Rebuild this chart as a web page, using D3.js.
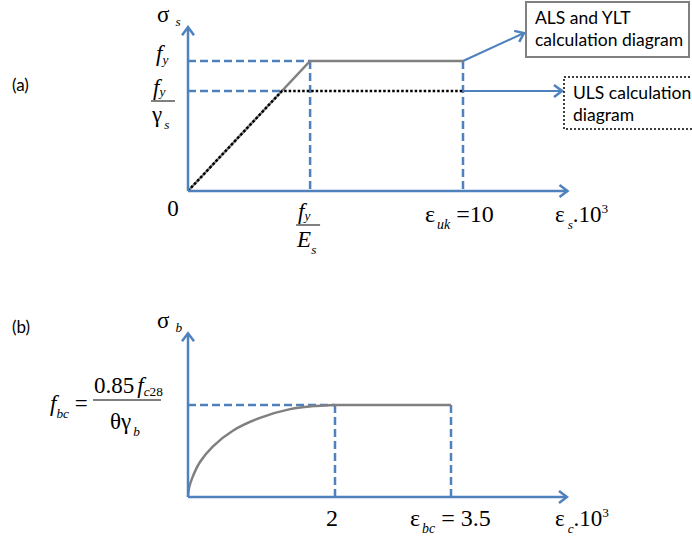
<!DOCTYPE html>
<html>
<head>
<meta charset="utf-8">
<script src="https://cdn.jsdelivr.net/npm/d3@7"></script>
<style>
  body { margin: 0; background: #fff; }
</style>
</head>
<body>
<script>
// steel diagram (a): strain x10^3, stress relative to fy
let steelStrain = [0, 4.44, 10];
let steelStress = [0, 1, 1];
let steelDesign = 0.77;          // fy / gamma_s relative to fy
let steelAxisMax = [13.8, 1.26];

// concrete diagram (b): strain x10^3, stress relative to fbc
let concreteStrain = [0, 0.015, 0.054, 0.163, 0.34, 0.61, 0.98, 1.39, 1.75, 2, 3.5];
let concreteStress = [0, 0.1, 0.2, 0.38, 0.55, 0.72, 0.86, 0.955, 0.99, 1, 1];
let concreteTicks = [2, 3.5];
let concreteAxisMax = [5, 1.78];

let blue = "#4f81bd";
let grey = "#808080";

function main() {
    let svg = d3.select("body").append("svg")
        .attr("width", 692)
        .attr("height", 541);

    let defs = svg.append("defs");
    defs.append("marker")
        .attr("id", "arr")
        .attr("viewBox", "-10 -8 12 16")
        .attr("markerWidth", 12)
        .attr("markerHeight", 16)
        .attr("markerUnits", "userSpaceOnUse")
        .attr("orient", "auto")
        .append("path")
        .attr("d", "M-8,-6 L0,0 L-8,6")
        .attr("fill", "none")
        .attr("stroke", blue)
        .attr("stroke-width", 2.5);

    function line(x1, y1, x2, y2, color, w, dash, arrow) {
        let l = svg.append("line")
            .attr("x1", x1).attr("y1", y1)
            .attr("x2", x2).attr("y2", y2)
            .attr("stroke", color)
            .attr("stroke-width", w);
        if (dash) l.attr("stroke-dasharray", dash);
        if (arrow) l.attr("marker-end", "url(#arr)");
        return l;
    }

    // math-style text built from parts, sub may be true or a pixel shift
    function math(x, y, parts, size, anchor) {
        let t = svg.append("text")
            .attr("x", x).attr("y", y)
            .attr("font-family", "Liberation Serif, serif")
            .attr("font-size", size)
            .attr("text-anchor", anchor || "start")
            .attr("fill", "#000");
        let shift = 0;
        parts.forEach(function(p) {
            let target = 0;
            if (p.sub) target = (p.sub === true) ? size * 0.3 : p.sub;
            if (p.sup) target = -size * 0.4;
            let ts = t.append("tspan").attr("dy", target - shift).text(p.t);
            if (p.dx) ts.attr("dx", p.dx);
            shift = target;
            if (p.i) ts.attr("font-style", "italic");
            if (p.sub || p.sup) ts.attr("font-size", size * 0.58);
        });
        return t;
    }

    function label(x, y, txt, size) {
        return svg.append("text")
            .attr("x", x).attr("y", y)
            .attr("font-family", "Lato, sans-serif")
            .attr("font-size", size)
            .attr("fill", "#000")
            .text(txt);
    }

    let dash = "8,4";

    // ---------- (a) steel ----------
    let xa = d3.scaleLinear().domain([0, 10]).range([188, 463]);
    let ya = d3.scaleLinear().domain([0, 1]).range([191, 61]);

    // dashed guides
    line(xa(0), ya(1), xa(steelStrain[1]), ya(1), blue, 2.5, dash);
    line(xa(0), ya(steelDesign), xa(steelStrain[1] * steelDesign), ya(steelDesign), blue, 2.5, dash);
    line(xa(steelStrain[1]), ya(1), xa(steelStrain[1]), ya(0), blue, 2.5, dash);
    line(xa(steelStrain[2]), ya(1), xa(steelStrain[2]), ya(0), blue, 2.5, dash);

    // grey characteristic diagram
    svg.append("path")
        .datum(steelStrain.map((d, i) => [d, steelStress[i]]))
        .attr("d", d3.line().x(d => xa(d[0])).y(d => ya(d[1])))
        .attr("fill", "none")
        .attr("stroke", grey)
        .attr("stroke-width", 2.5);

    // black dotted design diagram
    svg.append("path")
        .datum([[0, 0], [steelStrain[1] * steelDesign, steelDesign], [steelStrain[2], steelDesign]])
        .attr("d", d3.line().x(d => xa(d[0])).y(d => ya(d[1])))
        .attr("fill", "none")
        .attr("stroke", "#000")
        .attr("stroke-width", 2.5)
        .attr("stroke-dasharray", "2.5,2");

    // axes
    line(xa(0), ya(0), xa(steelAxisMax[0]), ya(0), blue, 2.5, null, true);
    line(xa(0), ya(0), xa(0), ya(steelAxisMax[1]), blue, 2.5, null, true);

    // callout arrows
    line(xa(10), ya(1), 524, 33, blue, 2, null, true);
    line(xa(10), ya(steelDesign), 562, ya(steelDesign), blue, 2, null, true);

    // boxes
    svg.append("rect")
        .attr("x", 526).attr("y", 2).attr("width", 163).attr("height", 55)
        .attr("fill", "#fff").attr("stroke", grey).attr("stroke-width", 2);
    label(535, 24, "ALS and YLT", 17.5);
    label(535, 46, "calculation diagram", 17.5);

    svg.append("rect")
        .attr("x", 564).attr("y", 77).attr("width", 140).attr("height", 52)
        .attr("fill", "#fff").attr("stroke", "#000").attr("stroke-width", 1.5)
        .attr("stroke-dasharray", "2,2");
    label(573, 99, "ULS calculation", 17.5);
    label(573, 121, "diagram", 17.5);

    label(12, 91, "(a)", 17);

    // axis labels (a)
    math(157, 22, [{t: "σ"}, {t: "s", i: true, sub: 4, dx: 6}], 23);
    math(156, 61, [{t: "f", i: true}, {t: "y", i: true, sub: 3}], 23);
    math(153, 95, [{t: "f", i: true}, {t: "y", i: true, sub: 1}], 23);
    line(151, 101, 175, 101, "#000", 1);
    math(152, 122, [{t: "γ"}, {t: "s", i: true, sub: true, dx: 2}], 23);
    math(173, 216, [{t: "0"}], 23, "middle");

    let xq = xa(steelStrain[1]);
    math(xq - 12, 219, [{t: "f", i: true}, {t: "y", i: true, sub: 1}], 23);
    line(xq - 14, 225, xq + 10, 225, "#000", 1);
    math(xq - 13, 247, [{t: "E", i: true}, {t: "s", i: true, sub: true}], 23);

    math(425, 222, [{t: "ε"}, {t: "uk", i: true, sub: true, dx: 2}, {t: " =10"}], 24);
    math(555, 222, [{t: "ε"}, {t: "s", i: true, sub: true, dx: 3}, {t: ".10"}, {t: "3", sup: true}], 23);

    // ---------- (b) concrete ----------
    let xb = d3.scaleLinear().domain([0, 2, 3.5]).range([188, 335, 451]);
    let yb = d3.scaleLinear().domain([0, 1]).range([497, 405]);

    concreteTicks.forEach(function(t) {
        line(xb(t), yb(1), xb(t), yb(0), blue, 2.5, dash);
    });
    line(xb(0), yb(1), xb(2), yb(1), blue, 2.5, dash);

    let pts = concreteStrain.map((d, i) => [d, concreteStress[i]]);
    let n = pts.length;
    // parabola part
    svg.append("path")
        .datum(pts.slice(0, n - 1))
        .attr("d", d3.line().curve(d3.curveCatmullRom.alpha(0.5)).x(d => xb(d[0])).y(d => yb(d[1])))
        .attr("fill", "none")
        .attr("stroke", grey)
        .attr("stroke-width", 2.5);
    // rectangle part
    svg.append("path")
        .datum(pts.slice(n - 2))
        .attr("d", d3.line().x(d => xb(d[0])).y(d => yb(d[1])))
        .attr("fill", "none")
        .attr("stroke", grey)
        .attr("stroke-width", 2.5);

    line(xb(0), yb(0), xb(concreteAxisMax[0]), yb(0), blue, 2.5, null, true);
    line(xb(0), yb(0), xb(0), yb(concreteAxisMax[1]), blue, 2.5, null, true);

    label(12, 333, "(b)", 17);
    math(157, 328, [{t: "σ"}, {t: "b", i: true, sub: 4, dx: 6}], 23);

    math(50, 411, [{t: "f", i: true}, {t: "bc", i: true, sub: true}, {t: " ="}], 23);
    math(94, 393, [{t: "0.85"}, {t: "f", i: true, dx: 3}, {t: "c", i: true, sub: 3}, {t: "28", sub: 3}], 23);
    line(93, 400, 161, 400, "#000", 1);
    math(110, 429, [{t: "θγ"}, {t: "b", i: true, sub: true, dx: 2}], 23);

    math(xb(2) - 3, 526, [{t: "2"}], 24, "middle");
    math(410, 526, [{t: "ε"}, {t: "bc", i: true, sub: true, dx: 2}, {t: " = 3.5"}], 24);
    math(555, 526, [{t: "ε"}, {t: "c", i: true, sub: true, dx: 3}, {t: ".10"}, {t: "3", sup: true}], 23);
}

main();
</script>
</body>
</html>
